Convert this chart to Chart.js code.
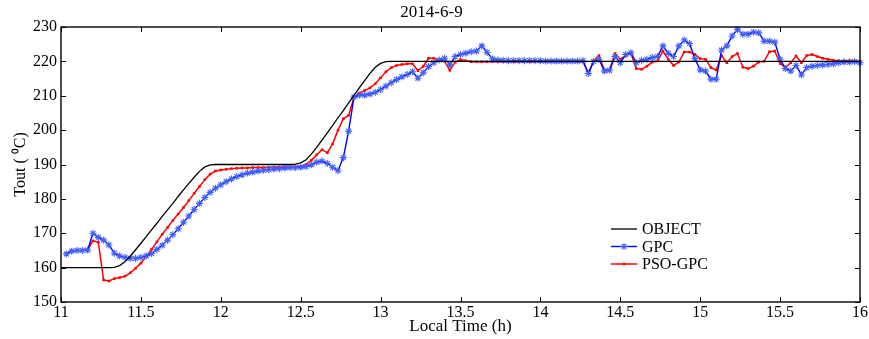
<!DOCTYPE html>
<html>
<head>
<meta charset="utf-8">
<script src="https://cdn.jsdelivr.net/npm/chart.js@4.4.1/dist/chart.umd.min.js"></script>
<style>
  html, body { margin: 0; padding: 0; background: #fff; }
  canvas { display: block; }
</style>
</head>
<body>
<canvas id="chart" width="869" height="339"></canvas>
<script>
// sampling: one point every 2 minutes from 11:00 to 16:00
const startHour = 11;
const stepHour = 2 / 60;

const xTicks = [11, 11.5, 12, 12.5, 13, 13.5, 14, 14.5, 15, 15.5, 16];
const yTicks = [150, 160, 170, 180, 190, 200, 210, 220, 230];

// OBJECT (set point)
const objectVals = [
  160, 160, 160, 160, 160, 160, 160, 160, 160, 160,
  160.1, 160.6, 161.7, 163.3, 165.2, 167.1, 169.0, 171.0, 172.9, 174.9,
  176.8, 178.7, 180.7, 182.6, 184.5, 186.3, 188.0, 189.3, 189.9, 190,
  190, 190, 190, 190, 190, 190, 190, 190, 190, 190,
  190, 190, 190, 190, 190.1, 190.5, 191.4, 193.0, 195.0, 197.1,
  199.2, 201.4, 203.6, 205.7, 207.9, 210.1, 212.3, 214.4, 216.5, 218.3,
  219.4, 219.9, 220, 220, 220, 220, 220, 220, 220, 220,
  220, 220, 220, 220, 220, 220, 220, 220, 220, 220,
  220, 220, 220, 220, 220, 220, 220, 220, 220, 220,
  220, 220, 220, 220, 220, 220, 220, 220, 220, 220,
  220, 220, 220, 220, 220, 220, 220, 220, 220, 220,
  220, 220, 220, 220, 220, 220, 220, 220, 220, 220,
  220, 220, 220, 220, 220, 220, 220, 220, 220, 220,
  220, 220, 220, 220, 220, 220, 220, 220, 220, 220,
  220, 220, 220, 220, 220, 220, 220, 220, 220, 220,
  220
];

// GPC
const gpcVals = [
  null, 164.0, 164.8, 165.0, 165.0, 165.1, 170.0, 168.8, 168.0, 166.6,
  164.2, 163.4, 163.0, 162.7, 162.7, 163.0, 163.4, 164.1, 165.3, 166.5,
  168.0, 169.6, 171.3, 173.2, 175.0, 176.9, 178.7, 180.4, 181.9, 183.1,
  184.1, 185.0, 185.8, 186.5, 187.0, 187.5, 187.8, 188.1, 188.3, 188.5,
  188.7, 188.8, 189.0, 189.1, 189.1, 189.2, 189.4, 189.9, 190.7, 191.0,
  190.3, 189.2, 188.2, 192.0, 199.7, 209.6, 210.2, 210.2, 210.5, 211.0,
  211.8, 212.8, 213.8, 214.7, 215.5, 216.2, 217.0, 215.1, 216.7, 218.5,
  219.6, 220.4, 220.9, 219.0, 221.4, 222.0, 222.4, 222.8, 223.0, 224.5,
  222.6, 220.7, 220.4, 220.3, 220.2, 220.2, 220.2, 220.2, 220.2, 220.2,
  220.2, 220.1, 220.1, 220.1, 220.1, 220.1, 220.1, 220.1, 220.2, 216.5,
  220.0, 220.6, 217.2, 217.4, 221.4, 219.6, 222.0, 222.5, 219.6, 220.3,
  220.6, 221.1, 221.4, 224.5, 222.3, 221.4, 224.5, 226.2, 225.2, 220.8,
  217.5, 217.2, 214.8, 214.8, 223.3, 224.5, 227.4, 229.3, 227.9, 227.9,
  228.5, 228.3, 225.9, 225.9, 225.6, 220.6, 217.9, 217.2, 218.8, 216.1,
  218.2, 218.6, 218.8, 219.0, 219.1, 219.3, 219.6, 219.8, 219.8, 219.9,
  219.6
];

// PSO-GPC
const psoVals = [
  null, 164.0, 164.9, 165.0, 165.0, 165.2, 167.8, 167.4, 156.4, 156.1,
  156.8, 157.1, 157.5, 158.5, 159.8, 161.3, 163.3, 165.3, 167.5, 169.7,
  171.7, 173.7, 175.6, 177.5, 179.5, 181.6, 183.6, 185.6, 187.2, 188.1,
  188.4, 188.6, 188.8, 188.9, 189.0, 189.0, 189.1, 189.1, 189.1, 189.2,
  189.2, 189.2, 189.3, 189.3, 189.3, 189.4, 190.0, 191.2, 192.8, 194.3,
  193.4, 196.0, 200.0, 203.3, 204.3, 209.5, 210.7, 211.5, 212.3, 213.5,
  215.2, 217.0, 218.2, 218.8, 219.1, 219.3, 219.3, 217.3, 218.5, 220.9,
  220.9, 220.2, 220.0, 217.4, 219.8, 220.5, 220.2, 219.9, 219.9, 219.9,
  219.9, 219.9, 219.9, 219.9, 219.9, 219.9, 219.9, 219.9, 219.9, 219.9,
  219.9, 219.9, 219.9, 219.9, 219.9, 219.9, 219.9, 219.9, 219.9, 216.5,
  220.1, 221.7, 217.5, 217.5, 222.3, 220.6, 221.7, 222.3, 217.9, 217.7,
  218.6, 219.8, 220.1, 223.0, 220.6, 218.8, 219.8, 222.7, 222.7, 222.0,
  220.8, 220.6, 218.2, 217.5, 221.7, 219.6, 221.4, 222.3, 218.3, 217.9,
  218.6, 219.8, 220.0, 222.8, 223.0, 219.4, 218.2, 219.6, 221.6, 219.6,
  221.7, 222.0, 221.4, 220.9, 220.6, 220.3, 220.2, 220.2, 220.2, 220.1,
  220.0
];

const FONT = "'Liberation Serif', 'Times New Roman', serif";

function toPoints(vals) {
    return vals.map((v, i) => ({ x: startHour + i * stepHour, y: v }));
}

// box round the plot with inward ticks on all four sides
const framePlugin = {
    id: 'frame',
    afterDatasetsDraw(chart) {
        const { ctx, chartArea: a, scales: { x, y } } = chart;
        ctx.save();
        ctx.strokeStyle = '#000';
        ctx.lineWidth = 1.4;
        ctx.strokeRect(a.left, a.top, a.right - a.left, a.bottom - a.top);
        ctx.lineWidth = 1;
        ctx.beginPath();
        xTicks.forEach(v => {
            const px = Math.round(x.getPixelForValue(v)) + 0.5;
            ctx.moveTo(px, a.bottom); ctx.lineTo(px, a.bottom - 5);
            ctx.moveTo(px, a.top); ctx.lineTo(px, a.top + 5);
        });
        yTicks.forEach(v => {
            const py = Math.round(y.getPixelForValue(v)) + 0.5;
            ctx.moveTo(a.left, py); ctx.lineTo(a.left + 5, py);
            ctx.moveTo(a.right, py); ctx.lineTo(a.right - 5, py);
        });
        ctx.stroke();
        ctx.restore();
    }
};

// legend drawn inside the plot, lower right
const legendPlugin = {
    id: 'innerLegend',
    afterDraw(chart) {
        const { ctx } = chart;
        const x0 = 611, x1 = 637, tx = 642;
        const rows = [229, 246.5, 264];
        ctx.save();
        ctx.font = '16px ' + FONT;
        ctx.textBaseline = 'middle';
        chart.data.datasets.forEach((ds, i) => {
            const yy = rows[i];
            ctx.strokeStyle = ds.borderColor;
            ctx.lineWidth = ds.borderWidth;
            ctx.beginPath();
            ctx.moveTo(x0, yy); ctx.lineTo(x1, yy);
            ctx.stroke();
            if (ds.pointRadius > 0) {
                ctx.fillStyle = ds.pointBackgroundColor;
                ctx.strokeStyle = ds.pointBorderColor;
                ctx.lineWidth = ds.pointBorderWidth;
                Chart.helpers.drawPoint(ctx, {
                    pointStyle: ds.pointStyle,
                    radius: ds.pointRadius,
                    borderWidth: ds.pointBorderWidth,
                    rotation: 0
                }, (x0 + x1) / 2, yy);
            }
            ctx.fillStyle = '#000';
            ctx.fillText(ds.label, tx, yy + 1);
        });
        ctx.restore();
    }
};

document.addEventListener('DOMContentLoaded', () => {
    const ctx = document.getElementById('chart').getContext('2d');

    new Chart(ctx, {
        type: 'line',
        data: {
            datasets: [{
                label: 'OBJECT',
                data: toPoints(objectVals),
                borderColor: '#000000',
                borderWidth: 1.3,
                pointRadius: 0,
                tension: 0
            }, {
                label: 'GPC',
                data: toPoints(gpcVals),
                borderColor: '#0000ff',
                borderWidth: 1.4,
                pointStyle: 'star',
                pointRadius: 3.5,
                pointBorderWidth: 1.1,
                pointBorderColor: '#4060ff',
                pointBackgroundColor: '#4060ff',
                tension: 0,
                clip: 5
            }, {
                label: 'PSO-GPC',
                data: toPoints(psoVals),
                borderColor: '#ff0000',
                borderWidth: 1.5,
                pointStyle: 'rect',
                pointRadius: 1.8,
                pointBorderWidth: 0,
                pointBorderColor: '#ff0000',
                pointBackgroundColor: '#ff0000',
                tension: 0,
                clip: 5
            }]
        },
        options: {
            responsive: false,
            animation: false,
            devicePixelRatio: 1,
            layout: {
                autoPadding: false,
                padding: { left: 0, right: 6, top: 0, bottom: 0 }
            },
            plugins: {
                legend: { display: false },
                tooltip: { enabled: false },
                title: {
                    display: true,
                    text: '2014-6-9',
                    color: '#000',
                    font: { family: FONT, size: 17, weight: 'normal' },
                    padding: { top: 2, bottom: 4.6 }
                }
            },
            scales: {
                x: {
                    type: 'linear',
                    min: 11,
                    max: 16,
                    grid: { display: false, drawTicks: false },
                    border: { display: false },
                    afterBuildTicks: s => { s.ticks = xTicks.map(v => ({ value: v })); },
                    afterFit: s => { s.height = 37; },
                    ticks: {
                        color: '#000',
                        padding: 1,
                        maxRotation: 0,
                        autoSkip: false,
                        font: { family: FONT, size: 16 },
                        callback: v => String(v)
                    },
                    title: {
                        display: true,
                        text: 'Local Time (h)',
                        color: '#000',
                        font: { family: FONT, size: 17 },
                        padding: { top: 0, bottom: 2 }
                    }
                },
                y: {
                    min: 150,
                    max: 230,
                    grid: { display: false, drawTicks: false },
                    border: { display: false },
                    afterBuildTicks: s => { s.ticks = yTicks.map(v => ({ value: v })); },
                    afterFit: s => { s.width = 61; },
                    ticks: {
                        color: '#000',
                        padding: 4,
                        autoSkip: false,
                        font: { family: FONT, size: 16 },
                        callback: v => String(v)
                    },
                    title: {
                        display: true,
                        text: 'Tout ( \u2070C)',
                        color: '#000',
                        font: { family: FONT, size: 16 },
                        padding: { top: 11, bottom: 0 }
                    }
                }
            }
        },
        plugins: [framePlugin, legendPlugin]
    });
});
</script>
</body>
</html>
